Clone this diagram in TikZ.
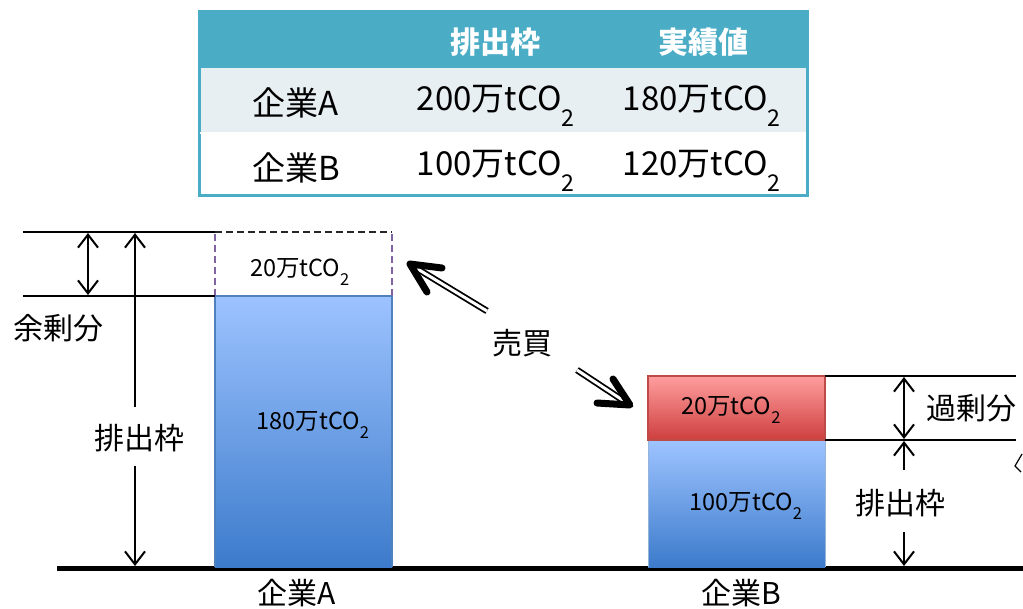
\documentclass[tikz,border=0pt]{standalone}
\usepackage{fontspec}
\setmainfont{Noto Sans CJK JP}
\usetikzlibrary{arrows.meta}
\definecolor{teal}{HTML}{4BACC6}
\definecolor{rowA}{HTML}{E8EFF3}
\definecolor{blueT}{HTML}{9DC3FF}
\definecolor{blueB}{HTML}{3C7BCB}
\definecolor{blueE}{HTML}{4F81BD}
\definecolor{redT}{HTML}{FF9E9E}
\definecolor{redB}{HTML}{CE3E3E}
\definecolor{redE}{HTML}{BE4B48}
\definecolor{purp}{HTML}{8064A2}
\newcommand{\coo}{tCO\raisebox{-0.22em}{\textsubscript{2}}}
\tikzset{
  tabtxt/.style={font=\fontsize{33}{36}\selectfont, inner sep=0pt},
  headtxt/.style={font=\fontsize{30}{33}\selectfont\bfseries, text=white, inner sep=0pt},
  lbl/.style={font=\fontsize{30}{33}\selectfont, inner sep=0pt},
  barlbl/.style={font=\fontsize{23.5}{26}\selectfont, inner sep=0pt},
  hline/.style={line width=2pt},
  dim/.style={line width=2pt, >={Straight Barb[length=13pt,width=20pt]}},
  shaft/.style={double, double distance=3pt, line width=1.8pt},
  head/.style={line width=7pt, line cap=round, line join=round}
}
\begin{document}
\begin{tikzpicture}[x=1pt,y=-1pt]
\useasboundingbox (0,0) rectangle (1023,608);
% ---- table
\fill[teal] (198,10) rectangle (808,68);
\fill[rowA] (198,68) rectangle (808,132);
\fill[white] (198,134) rectangle (808,194);
\draw[teal, line width=3pt] (199,11) rectangle (807,195);
\draw[white, line width=2pt] (200,133) -- (806,133);
\node[headtxt] (h1) at (495,42) {排出枠};
\node[headtxt] (h2) at (703,42) {実績値};
\node[tabtxt] (rA) at (296,103) {企業A};
\node[tabtxt] (a1) at (496,106) {200万\coo};
\node[tabtxt] (a2) at (702,106) {180万\coo};
\node[tabtxt] (rB) at (296,168) {企業B};
\node[tabtxt] (b1) at (496,171) {100万\coo};
\node[tabtxt] (b2) at (702,171) {120万\coo};
% ---- base line
\coordinate (g0) at (57,568);
\coordinate (g1) at (1023,568);
\draw[line width=5pt] (g0) -- (g1);
% ---- company A
\shade[top color=blueT, bottom color=blueB] (215,296) rectangle (392,567);
\draw[blueE, line width=1.5pt] (215,567) -- (215,296) -- (392,296) -- (392,567);
\draw[purp, dash pattern=on 7pt off 4pt, line width=1.5pt] (215,296) -- (215,232);
\draw[purp, dash pattern=on 7pt off 4pt, line width=1.5pt] (392,296) -- (392,232);
\draw[black!85, dash pattern=on 7pt off 4pt, line width=1.5pt] (215,232) -- (392,232);
\node[barlbl] (a20) at (300,272) {20万\coo};
\node[barlbl] (a180) at (313,425) {180万\coo};
\node[lbl] (coA) at (297,593) {企業A};
\coordinate (lt1) at (23,232);
\coordinate (lt2) at (215,232);
\coordinate (lm1) at (23,296);
\coordinate (lm2) at (215,296);
\draw[hline] (lt1) -- (lt2);
\draw[hline] (lm1) -- (lm2);
\coordinate (d1t) at (88,233);
\coordinate (d1b) at (88,295);
\draw[dim, <->] (d1t) -- (d1b);
\node[lbl] (yojo) at (58,328) {余剰分};
\node[lbl] (haiA) at (139,438) {排出枠};
\coordinate (d2t) at (135,233);
\coordinate (d2b) at (135,566);
\draw[dim, ->] (135,407) -- (d2t);
\draw[dim, ->] (135,466) -- (d2b);
% ---- trading arrows
\node[lbl] (baibai) at (522,343) {売買};
\coordinate (s1a) at (487,311);
\coordinate (s1b) at (416,268);
\coordinate (t1) at (410,264);
\coordinate (t1a) at (442,268);
\coordinate (t1b) at (427,292);
\draw[shaft] (s1a) -- (s1b);
\draw[head] (t1a) -- (t1) -- (t1b);
\coordinate (s2a) at (577,370);
\coordinate (s2b) at (624,401);
\coordinate (t2) at (630,405);
\coordinate (t2a) at (613,379);
\coordinate (t2b) at (597,403);
\draw[shaft] (s2a) -- (s2b);
\draw[head] (t2a) -- (t2) -- (t2b);
% ---- company B
\shade[top color=redT, bottom color=redB] (648,376) rectangle (825,440);
\draw[redE, line width=1.5pt] (648,376) rectangle (825,440);
\shade[top color=blueT, bottom color=blueB] (648,441) rectangle (825,567);
\draw[blueE!60, line width=1pt] (648,567) -- (648,441);
\draw[blueE!60, line width=1pt] (825,567) -- (825,441);
\node[barlbl] (b20) at (731,410) {20万\coo};
\node[barlbl] (b100) at (746,506) {100万\coo};
\node[lbl] (coB) at (741,593) {企業B};
\coordinate (rt1) at (825,376);
\coordinate (rt2) at (1016,376);
\coordinate (rm1) at (825,440);
\coordinate (rm2) at (1016,440);
\draw[hline] (rt1) -- (rt2);
\draw[hline] (rm1) -- (rm2);
\coordinate (d3t) at (904,377);
\coordinate (d3b) at (904,439);
\draw[dim, <->] (d3t) -- (d3b);
\node[lbl] (kajo) at (971,408) {過剰分};
\node[lbl] (haiB) at (900,503) {排出枠};
\coordinate (d4t) at (904,441);
\coordinate (d4b) at (904,566);
\draw[dim, ->] (904,470) -- (d4t);
\draw[dim, ->] (904,532) -- (d4b);
% ---- partial shape at right edge
\coordinate (k1) at (1022,454);
\coordinate (k2) at (1015,466);
\coordinate (k3) at (1021,472);
\draw[line width=1.2pt] (k1) -- (k2) -- (k3);
\end{tikzpicture}
\end{document}
